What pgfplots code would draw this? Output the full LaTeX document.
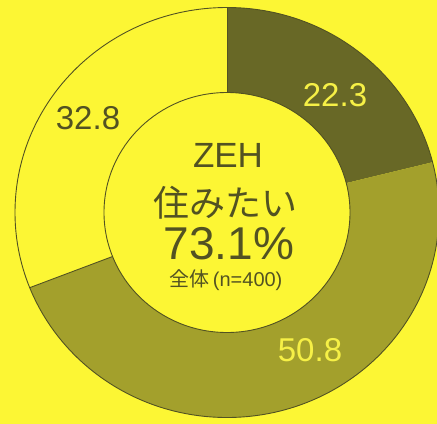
\documentclass[border=0pt]{standalone}
\usepackage{pgfplots}
\pgfplotsset{compat=1.18}
\usepackage{fontspec}
\setmainfont{Liberation Sans}
\newfontfamily\cjk{Noto Sans CJK JP}
\definecolor{bg}{RGB}{252,246,52}
\definecolor{darkseg}{RGB}{104,104,38}
\definecolor{midseg}{RGB}{163,160,44}
\definecolor{txt}{RGB}{82,82,34}
\definecolor{lab}{RGB}{246,240,70}
\begin{document}
\begin{tikzpicture}
% values (percent)
\def\vA{22.3}\def\vB{50.8}\def\vC{32.8}
\pgfmathsetmacro{\tot}{\vA+\vB+\vC}
\pgfmathsetmacro{\aA}{90}
\pgfmathsetmacro{\aB}{\aA-\vA/\tot*360}
\pgfmathsetmacro{\aC}{\aB-\vB/\tot*360}
\pgfmathsetmacro{\aD}{\aC-\vC/\tot*360}
\begin{axis}[x=1bp, y=1bp, xmin=0, xmax=437, ymin=0, ymax=423, hide axis, clip=false]
\coordinate (sw) at (axis cs:0,0);
\coordinate (ne) at (axis cs:437,423);
\coordinate (O) at (axis cs:227,210.5);
\fill[bg] (axis cs:-5,-5) rectangle (axis cs:450,430);
% sectors
\fill[darkseg] ([shift={(\aA:212bp and 205bp)}]O) arc[start angle=\aA, end angle=\aB, x radius=212bp, y radius=205bp]
  -- ([shift={(\aB:123bp and 120bp)}]O) arc[start angle=\aB, end angle=\aA, x radius=123bp, y radius=120bp] -- cycle;
\fill[midseg] ([shift={(\aB:212bp and 205bp)}]O) arc[start angle=\aB, end angle=\aC, x radius=212bp, y radius=205bp]
  -- ([shift={(\aC:123bp and 120bp)}]O) arc[start angle=\aC, end angle=\aB, x radius=123bp, y radius=120bp] -- cycle;
\fill[bg] ([shift={(\aC:212bp and 205bp)}]O) arc[start angle=\aC, end angle=\aD, x radius=212bp, y radius=205bp]
  -- ([shift={(\aD:123bp and 120bp)}]O) arc[start angle=\aD, end angle=\aC, x radius=123bp, y radius=120bp] -- cycle;
% outlines
\draw[txt, line width=0.9bp] (O) ellipse[x radius=212bp, y radius=205bp];
\draw[txt, line width=0.9bp] (O) ellipse[x radius=123bp, y radius=120bp];
\draw[txt, line width=0.9bp] ([shift={(\aA:123bp and 120bp)}]O) -- ([shift={(\aA:212bp and 205bp)}]O);
\draw[txt, line width=0.9bp] ([shift={(\aC:123bp and 120bp)}]O) -- ([shift={(\aC:212bp and 205bp)}]O);
% labels
\tikzset{every node/.append style={inner sep=0pt, outer sep=0pt}}
\node[lab, font=\fontsize{33bp}{33bp}\selectfont] at (axis cs:335,328) {22.3};
\node[lab, font=\fontsize{33bp}{33bp}\selectfont] at (axis cs:310,73) {50.8};
\node[txt, font=\fontsize{33bp}{33bp}\selectfont] at (axis cs:88,305) {32.8};
\node[txt, font=\fontsize{35bp}{35bp}\selectfont] at (axis cs:228,268) {ZEH};
\node[txt, font=\cjk\fontsize{36bp}{36bp}\selectfont] at (axis cs:225,220) {住みたい};
\node[txt, font=\fontsize{46bp}{46bp}\selectfont] at (axis cs:229,179) {73.1\%};
\node[txt, font=\fontsize{20bp}{20bp}\selectfont] at (axis cs:226,143) {{\cjk 全体}\,(n=400)};
\end{axis}
\pgfresetboundingbox
\useasboundingbox (sw) rectangle (ne);
\end{tikzpicture}
\end{document}
